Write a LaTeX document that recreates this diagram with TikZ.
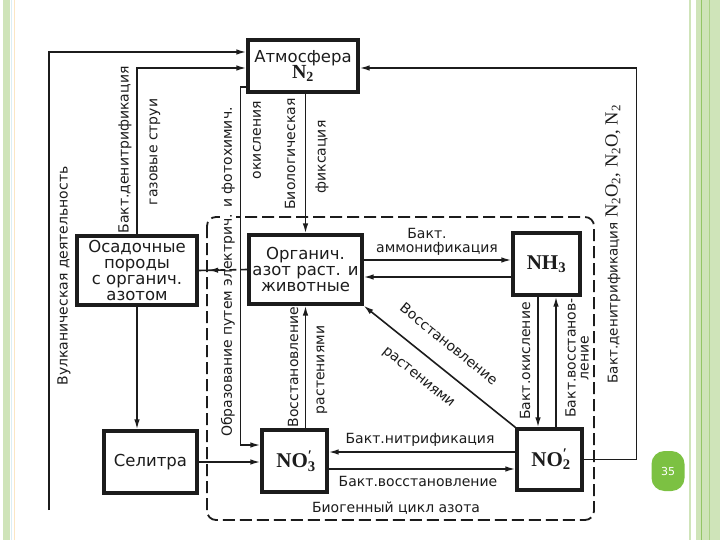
\documentclass[tikz,border=0pt]{standalone}
\usepackage{fontspec}
\newfontfamily\lf{DejaVu Sans}
\newfontfamily\ff{Liberation Serif}
\newcommand\cs[1]{\textsubscript{#1}}
\newcommand\csp[1]{\rlap{\textsubscript{#1}}\textsuperscript{′}}
\usetikzlibrary{arrows.meta}
\definecolor{ink}{HTML}{1C1C1C}
\definecolor{grA}{HTML}{CFE4B9}
\definecolor{grB}{HTML}{93C566}
\definecolor{paleb}{HTML}{DDEEF4}
\definecolor{paleo}{HTML}{FBE6C4}
\definecolor{badge}{HTML}{7CC142}
\begin{document}
\begin{tikzpicture}[x=1pt,y=-1pt,
  box/.style={draw=ink, line width=3.2pt, fill=white, inner sep=1pt, align=center,
    font=\lf\fontsize{16.5}{16}\selectfont, text=ink},
  fbox/.style={box, font=\ff\bfseries\fontsize{21}{22}\selectfont},
  lab/.style={font=\lf\fontsize{14}{15}\selectfont, text=ink, inner sep=1pt, align=center},
  vlab/.style={lab, rotate=90},
  line/.style={draw=ink, line width=1.6pt},
  conn/.style={line, -{Latex[length=10pt,width=5.5pt]}},
  bound/.style={draw=ink, line width=1.8pt, dash pattern=on 12pt off 5pt}
]
\fill[white] (0,0) rectangle (720,540);
\useasboundingbox (0,0) rectangle (720,540);
% slide borders
\fill[grA] (2.5,0) rectangle (9.5,540);
\draw[paleb, line width=0.8pt] (11,0) -- (11,540);
\draw[paleo, line width=0.8pt] (14.3,0) -- (14.3,540);
\draw[grA, line width=2.5pt] (690,0) -- (690,540);
\fill[grA] (695.5,0) rectangle (720,540);
\draw[grB, line width=1pt] (701.7,0) -- (701.7,540);
\draw[grB!60!grA, line width=0.8pt] (709,0) -- (709,540);
\node[fill=badge, rounded corners=13pt, minimum width=33pt, minimum height=40pt,
  text=white, font=\lf\fontsize{11}{12}\selectfont, inner sep=0pt] (badge) at (668,471) {35};

% biogenic cycle boundary
\draw[bound, rounded corners=9pt] (207,217) rectangle (594,520);
\node[lab] (biog) at (396,508) {Биогенный цикл азота};

% boxes
\node[box, minimum width=110pt, minimum height=52pt] (atm) at (303,66)
  {Атмосфера\\[-2pt]{\ff\bfseries\fontsize{20}{21}\selectfont N\cs{2}}};
\node[box, minimum width=120pt, minimum height=69pt] (osad) at (137,270.5)
  {Осадочные\\породы\\с органич.\\азотом};
\node[box, minimum width=113pt, minimum height=69pt] (org) at (305.5,269.5)
  {Органич.\\азот раст. и\\животные};
\node[fbox, minimum width=67pt, minimum height=62pt] (nh3) at (546.5,264) {NH\cs{3}};
\node[box, minimum width=93pt, minimum height=62pt] (sel) at (150.5,462) {Селитра};
\node[fbox, minimum width=65pt, minimum height=62pt] (no3) at (294.5,461) {NO\csp{3}};
\node[fbox, minimum width=65pt, minimum height=61pt] (no2) at (549.5,459.5) {NO\csp{2}};

% volcanic activity
\coordinate (volc) at (49,510);
\draw[conn] (volc) |- ([yshift=14pt]atm.west);
\node[vlab] (lvolc) at (64,276) {Вулканическая деятельность};
% denitrification from sediments
\draw[conn] (osad.north) |- ([yshift=-2pt]atm.west);
\node[vlab] (ldenit1) at (125,150) {Бакт.денитрификация};
\node[vlab] (lgas) at (155,152) {газовые струи};
% sediments -> saltpeter -> NO3
\draw[conn] (osad.south) -- (osad.south |- sel.north);
\draw[conn] (sel.east) -- (sel.east -| no3.west);
% electric / photochemical oxidation
\draw[conn] ([yshift=-21pt]atm.west) -- ++(-6,0) |- ([yshift=16pt]no3.west);
\node[vlab, fill=white] (lelec) at (228,272) {Образование путем электрич. и фотохимич.};
\node[vlab] (lox) at (257,140) {окисления};
% biological fixation
\draw[conn] (atm.south -| org.north) -- (org.north);
\node[vlab] (lbio) at (290,154) {Биологическая};
\node[vlab] (lfix) at (322,157) {фиксация};
% organic -> sediments (dashed)
\path (org.west) -- (osad.east) coordinate[pos=0.7] (dm);
\draw[line, dash pattern=on 7pt off 4pt] (org.west) -- (dm);
\draw[line] (dm) -- (osad.east);
\draw[conn] ([xshift=6pt]dm) -- ([xshift=-5pt]dm);
% organic <-> NH3
\draw[conn] ([yshift=9.5pt]org.east) -- ([yshift=9.5pt]org.east -| nh3.west);
\draw[conn] ([yshift=-7.5pt]org.east -| nh3.west) -- ([yshift=-7.5pt]org.east);
\node[lab] (lb1) at (427,233) {Бакт.};
\node[lab] (lamm) at (437,249) {аммонификация};
% NH3 <-> NO2
\draw[conn] ([xshift=-8.5pt]nh3.south) -- ([xshift=-8.5pt]nh3.south |- no2.north);
\draw[conn] ([xshift=9.5pt]nh3.south |- no2.north) -- ([xshift=9.5pt]nh3.south);
\node[vlab] (lok) at (525,361) {Бакт.окисление};
\node[vlab, align=center, font=\lf\fontsize{14}{13}\selectfont] (lvos) at (577,358) {Бакт.восстанов-\\ление};
% NO2 <-> NO3
\draw[conn] ([yshift=7.5pt]no2.west) -- ([yshift=7.5pt]no2.west -| no3.east);
\draw[conn] ([yshift=-8pt]no3.east) -- ([yshift=-8pt]no3.east -| no2.west);
\node[lab] (lnit) at (420,440) {Бакт.нитрификация};
\node[lab] (lred) at (418,481) {Бакт.восстановление};
% NO3 -> organic
\draw[conn] (org.south |- no3.north) -- (org.south);
\node[vlab] (lv1) at (293,367) {Восстановление};
\node[vlab] (lv2) at (322,370) {растениями};
% NO2 -> organic (diagonal)
\draw[conn] (no2.north west) -- (org.south east);
\node[lab, rotate=-39] (ld1) at (449,344) {Восстановление};
\node[lab, rotate=-39] (ld2) at (418,378) {растениями};
% NO2 -> atmosphere
\draw[conn] (no2.east) -- ++(53,0) |- ([yshift=-2pt]atm.east);
\node[vlab, font=\lf\fontsize{13.5}{15}\selectfont] (lrden) at (613,244) {Бакт.денитрификация {\ff\fontsize{18.5}{20}\selectfont N\cs{2}O\cs{2}, N\cs{2}O, N\cs{2}}};
\end{tikzpicture}
\end{document}
